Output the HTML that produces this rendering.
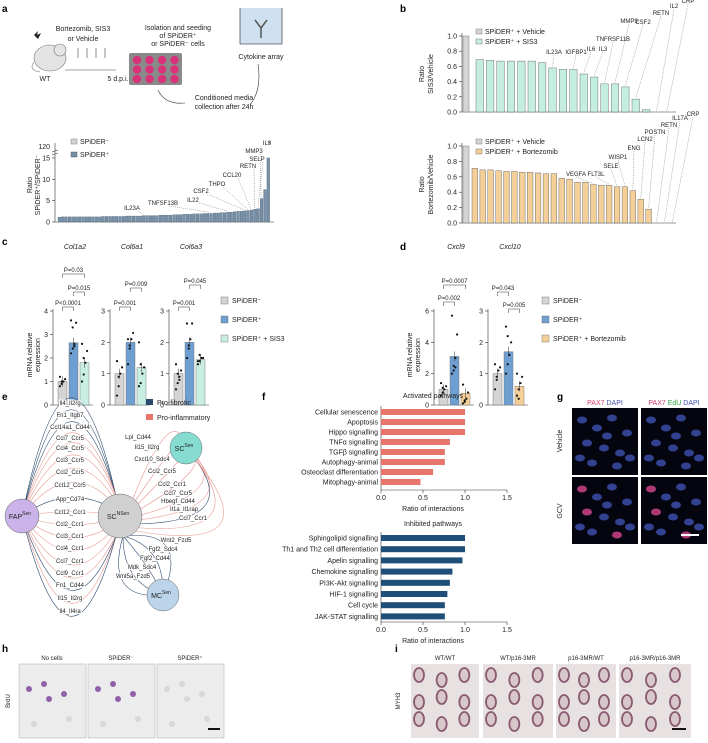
<!DOCTYPE html>
<html><head><meta charset="utf-8"><style>
body{margin:0;background:#fff;}
svg{display:block;font-family:"Liberation Sans",Arial,sans-serif;}
.pl{font-weight:bold;font-size:10px;}
.t{font-size:7px;fill:#222;}
.s{font-size:6px;fill:#222;}
</style></head><body>
<svg id="fig" width="708" height="743" viewBox="0 0 708 743" xmlns="http://www.w3.org/2000/svg">
<g>
<text class="pl" x="2" y="12">a</text>
<ellipse cx="50" cy="58" rx="16" ry="13" fill="#e4e4e4" stroke="#777" stroke-width="0.6"/>
<circle cx="60" cy="50" r="6" fill="#e4e4e4" stroke="#777" stroke-width="0.6"/>
<path d="M34,62 Q28,70 40,72" fill="none" stroke="#777" stroke-width="0.6"/>
<path d="M34,35 l4,-4 l-1,4 l4,-2 l-3,6" fill="#222"/>
<text class="t" x="45" y="81" text-anchor="middle">WT</text>
<text class="t" x="83" y="31" text-anchor="middle">Bortezomib, SIS3</text>
<text class="t" x="83" y="41" text-anchor="middle">or Vehicle</text>
<g stroke="#444" stroke-width="0.6"><line x1="78" y1="48" x2="78" y2="58"/><line x1="87" y1="48" x2="87" y2="58"/><line x1="96" y1="48" x2="96" y2="58"/><line x1="105" y1="48" x2="105" y2="58"/><line x1="65" y1="70" x2="116" y2="70"/></g>
<text class="t" x="118" y="81" text-anchor="middle">5 d.p.i.</text>
<rect x="129" y="53" width="53" height="32" rx="2" fill="#8a8a8a"/>
<g id="wells" fill="#d8337a"></g>
<text class="t" x="178" y="30" text-anchor="middle">Isolation and seeding</text>
<text class="t" x="178" y="38" text-anchor="middle">of SPiDER⁺</text>
<text class="t" x="178" y="46" text-anchor="middle">or SPiDER⁻ cells</text>
<path d="M240,8 L240,44 L282,44 L282,8" fill="#cfe0f0" stroke="#555" stroke-width="0.8"/>
<path d="M261,38 L261,28 L255,20 M261,28 L267,20" stroke="#555" stroke-width="1.5" fill="none"/>
<text class="t" x="261" y="59" text-anchor="middle">Cytokine array</text>
<path d="M158,90 Q165,105 185,103" fill="none" stroke="#333" stroke-width="0.6"/>
<path d="M250,105 Q262,90 258,64" fill="none" stroke="#333" stroke-width="0.6"/>
<text class="t" x="224" y="100" text-anchor="middle">Conditioned media</text>
<text class="t" x="224" y="109" text-anchor="middle">collection after 24h</text>
</g>
<g id="pa"></g>
<g id="pb"></g>
<g id="pc"></g>
<g id="pe"></g>
<g id="pf"></g>
<g id="pg"></g>
<g id="ph"></g>
</svg>
<script>
const NS="http://www.w3.org/2000/svg";
function el(p,tag,attrs,txt){const e=document.createElementNS(NS,tag);for(const k in attrs)e.setAttribute(k,attrs[k]);if(txt!==undefined)e.textContent=txt;p.appendChild(e);return e;}
function tx(p,x,y,s,cls,anchor,extra){const e=el(p,'text',Object.assign({x:x,y:y,class:cls||'t','text-anchor':anchor||'start'},extra||{}),s);return e;}

// ---- panel a data ----
const aRatios=[1.1,1.2,1.2,1.2,1.2,1.2,1.2,1.2,1.2,1.2,1.2,1.2,1.2,1.3,1.3,1.3,1.3,1.3,1.3,1.3,1.4,1.4,1.4,1.4,1.4,1.5,1.5,1.5,1.5,1.5,1.6,1.6,1.6,1.6,1.7,1.7,1.7,1.8,1.8,1.8,1.9,1.9,1.9,2.0,2.0,2.0,2.1,2.1,2.2,2.2,2.3,2.3,2.4,2.5,2.5,2.6,2.7,2.8,3.0,3.1,5.5,7.6,15];
const aLabels=["IL23A","TNFSF13B","IL22","CSF2","THPO","CCL20","RETN","SELP","MMP3","IL3"];
const aLabelIdx=[25,45,50,55,56,57,58,59,60,62];
const aTicks=[0,5,10,15];
// ---- panel b data ----
const bSisVals=[0.69,0.68,0.67,0.67,0.67,0.67,0.65,0.58,0.56,0.56,0.50,0.46,0.37,0.37,0.33,0.17,0.03,0,0];
const bSisLabels=["IL23A","IGFBP1","IL6","IL3","TNFRSF11B","MMP9","CSF2","RETN","IL2","CRP"];
const bSisIdx=[7,9,10,11,12,13,14,15,17,18];
const bBorVals=[0.71,0.69,0.69,0.68,0.67,0.67,0.66,0.66,0.65,0.64,0.64,0.58,0.57,0.53,0.53,0.50,0.49,0.49,0.47,0.47,0.42,0.31,0.18,0,0,0];
const bBorLabels=["VEGFA","FLT3L","SELE","WISP1","ENG","LCN2","POSTN","RETN","IL17A","CRP"];
const bBorIdx=[15,17,18,19,20,21,22,23,24,25];
const bTicks=[0,0.2,0.4,0.6,0.8,1.0];
// ---- panel c/d data ----
const cdGenes=["Col1a2","Col6a1","Col6a3","Cxcl9","Cxcl10"];
const cdMeans=[[1.0,2.65,1.8],[1.0,2.0,1.2],[1.0,2.0,1.45],[1.0,3.1,0.75],[1.0,1.7,0.6]];
const cdDots=[[[0.8,0.9,1.0,1.1,1.2,1.0],[2.2,2.4,2.6,3.5,3.6,3.3,2.5],[1.0,1.3,1.8,2.3,2.6,2.0]],
 [[0.3,0.6,1.0,1.2,1.4,0.9],[1.3,1.8,2.1,2.3,2.1,1.9],[0.6,0.7,1.0,1.2,2.0,1.3]],
 [[0.5,0.7,0.9,1.1,1.3,1.0,0.8],[1.5,1.8,2.1,2.6,2.6,1.9],[1.3,1.4,1.5,1.5,1.4,1.6]],
 [[0.6,0.8,1.0,1.2,1.4,1.1],[2.0,2.5,3.0,4.5,5.7,2.2,2.4],[0.1,0.2,0.4,0.8,1.3,0.3]],
 [[0.5,0.8,1.1,1.2,1.3,0.9],[1.0,1.3,1.6,2.0,2.5,2.2],[0.3,0.5,0.7,0.9,1.0,0.2]]];
const cdMax=[4,3,3,6,3];
const cdP=[[["P<0.0001",0,1,305],["P=0.015",1,2,290],["P=0.03",0,2,272]],
 [["P=0.001",0,1,305],["P=0.009",1,2,286]],
 [["P=0.001",0,1,305],["P=0.045",1,2,283]],
 [["P=0.002",0,1,300],["P=0.0007",0,2,283]],
 [["P=0.043",0,1,290],["P=0.005",1,2,307]]];
// ---- panel f data ----
const fActNames=["Cellular senescence","Apoptosis","Hippo signalling","TNFα signalling","TGFβ signalling","Autophagy-animal","Osteoclast differentiation","Mitophagy-animal"];
const fActVals=[1.0,1.0,1.0,0.82,0.76,0.76,0.62,0.47];
const fInhNames=["Sphingolipid signalling","Th1 and Th2 cell differentiation","Apelin signalling","Chemokine signalling","PI3K-Akt signalling","HIF-1 signalling","Cell cycle","JAK-STAT signalling"];
const fInhVals=[1.0,1.0,0.97,0.85,0.82,0.79,0.76,0.76];
const fTicks=[0,0.5,1.0,1.5];

// wells
const wells=document.getElementById('wells');
for(let r=0;r<3;r++)for(let c=0;c<4;c++){const w=el(wells,'circle',{cx:137+c*12.5,cy:60+r*9.5,r:4.2});

}

// ---- panel a chart ----
(function(){
const g=document.getElementById('pa');
const x0=58,dx=3.37,y0=222,k=4.27;
const ya=v=>y0-Math.min(v,15)*k;
el(g,'line',{x1:55,y1:143,x2:55,y2:222,stroke:'#333','stroke-width':0.6});
el(g,'line',{x1:55,y1:222,x2:274,y2:222,stroke:'#333','stroke-width':0.6});
aTicks.forEach(t=>{el(g,'line',{x1:52,x2:55,y1:ya(t),y2:ya(t),stroke:'#333','stroke-width':0.6});tx(g,50,ya(t)+2.5,String(t),'t','end');});
tx(g,50,149,"120",'t','end');
el(g,'line',{x1:52,x2:58,y1:152,y2:150,stroke:'#333','stroke-width':0.6});
el(g,'line',{x1:52,x2:58,y1:155,y2:153,stroke:'#333','stroke-width':0.6});
tx(g,32,185,"Ratio",'t','middle',{transform:'rotate(-90 32 185)'});
tx(g,40,185,"SPiDER⁺/SPiDER⁻",'t','middle',{transform:'rotate(-90 40 185)'});
aRatios.forEach((v,i)=>{const b=el(g,'rect',{x:x0+i*dx,y:ya(v),width:dx*0.8,height:y0-ya(v),fill:'#7590a8',stroke:'#44586a','stroke-width':0.3});

});
tx(g,269,146,"*",'t','middle');
const lp=[[132,210],[163,205],[193,202],[201,193],[217,186],[232,177],[248,168],[257,161],[254,153],[267,145]];
aLabels.forEach((s,i)=>{const [lx,ly]=lp[i];tx(g,lx,ly,s,'s','middle');const bi=aLabelIdx[i];
if(s!=="IL3")el(g,'line',{x1:lx+6,y1:ly+1,x2:x0+bi*dx+1,y2:ya(aRatios[bi])-1,stroke:'#555','stroke-width':0.4,'stroke-dasharray':'1,1'});});
el(g,'rect',{x:71,y:139,width:6,height:5,fill:'#d4d4d4',stroke:'#666','stroke-width':0.4});
tx(g,80,144,"SPiDER⁻");
el(g,'rect',{x:71,y:152,width:6,height:5,fill:'#7590a8',stroke:'#444','stroke-width':0.4});
tx(g,80,157,"SPiDER⁺");
})();

// ---- panel b ----
(function(){
const g=document.getElementById('pb');
tx(g,400,12,"b",'pl');
function chart(vals,labels,idx,top,bot,xStart,dx,color,legend2,ylab2,lpos){
 const ax=462,k=bot-top,y=v=>bot-v*k;
 el(g,'line',{x1:ax,y1:top-3,x2:ax,y2:bot,stroke:'#333','stroke-width':0.6});
 el(g,'line',{x1:ax,y1:bot,x2:676,y2:bot,stroke:'#333','stroke-width':0.6});
 bTicks.forEach(t=>{el(g,'line',{x1:ax-3,x2:ax,y1:y(t),y2:y(t),stroke:'#333','stroke-width':0.6});tx(g,ax-5,y(t)+2.5,t.toFixed(1),'t','end');});
 tx(g,424,(top+bot)/2,"Ratio",'t','middle',{transform:`rotate(-90 424 ${(top+bot)/2})`});
 tx(g,433,(top+bot)/2,ylab2,'t','middle',{transform:`rotate(-90 433 ${(top+bot)/2})`});
 el(g,'rect',{x:463,y:y(1),width:6,height:bot-y(1),fill:'#d4d4d4',stroke:'#666','stroke-width':0.4});
 vals.forEach((v,i)=>{const b=el(g,'rect',{x:xStart+i*dx,y:y(v),width:dx*0.72,height:bot-y(v),fill:color,stroke:'#555','stroke-width':0.4});
 
 });
 labels.forEach((s,i)=>{const [lx,ly]=lpos[i];tx(g,lx,ly,s,'s','middle');const bi=idx[i];
  el(g,'line',{x1:lx,y1:ly+1,x2:xStart+bi*dx+dx*0.36,y2:y(vals[bi])-1,stroke:'#555','stroke-width':0.4,'stroke-dasharray':'1,1'});});
 el(g,'rect',{x:476,y:top-7,width:6,height:5,fill:'#d4d4d4',stroke:'#666','stroke-width':0.4});
 tx(g,485,top-2,"SPiDER⁺ + Vehicle");
 el(g,'rect',{x:476,y:top+3,width:6,height:5,fill:color,stroke:'#555','stroke-width':0.4});
 tx(g,485,top+8,legend2);
}
chart(bSisVals,bSisLabels,bSisIdx,36,112,476,10.4,'#c4efe0','SPiDER⁺ + SIS3','SIS3/Vehicle',
 [[554,54],[576,54],[591,51],[603,51],[613,41],[629,23],[643,24],[661,15],[674,8],[688,3]]);
chart(bBorVals,bBorLabels,bBorIdx,146,223,472,7.9,'#f5cf98','SPiDER⁺ + Bortezomib','Bortezomib/Vehicle',
 [[576,176],[596,176],[611,168],[618,159],[634,150],[645,141],[655,134],[669,127],[680,120],[693,116]]);
})();

// ---- panel c/d ----
(function(){
const g=document.getElementById('pc');
tx(g,2,245,"c",'pl');tx(g,400,250,"d",'pl');
const axes=[53,110,169,434,488];
const cols=['#d4d4d4','#6f9fd0','#c9efe2','#d4d4d4','#6f9fd0','#f5cf98'];
const y0=405,h=94;
cdGenes.forEach((gn,ci)=>{
 const ax=axes[ci],mx=cdMax[ci],y=v=>y0-v/mx*h;
 const fill=ci<3?['#d4d4d4','#6f9fd0','#c9efe2']:['#d4d4d4','#6f9fd0','#f5cf98'];
 tx(g,ax+22,249,gn,'t','middle',{'font-style':'italic','font-size':'7.5'});
 el(g,'line',{x1:ax,y1:y(mx)-2,x2:ax,y2:y0,stroke:'#333','stroke-width':0.6});
 el(g,'line',{x1:ax,y1:y0,x2:ax+40,y2:y0,stroke:'#333','stroke-width':0.6});
 const step=ci===3?2:1;
 for(let t=0;t<=mx;t+=step){el(g,'line',{x1:ax-3,x2:ax,y1:y(t),y2:y(t),stroke:'#333','stroke-width':0.6});tx(g,ax-5,y(t)+2.5,String(t),'t','end');}
 const bx=i=>ax+5+i*11;
 cdMeans[ci].forEach((m,i)=>{const b=el(g,'rect',{x:bx(i),y:y(m),width:9,height:y0-y(m),fill:fill[i],stroke:'#666','stroke-width':0.4});
  
  
  el(g,'line',{x1:bx(i)+4.5,x2:bx(i)+4.5,y1:y(m)-5,y2:y(m)+5,stroke:'#333','stroke-width':0.5});
  cdDots[ci][i].forEach((d,j)=>{const c=el(g,'circle',{cx:bx(i)+2+(j%4)*1.7,cy:y(d),r:1.1,fill:'#111'});
   
   });});
 cdP[ci].forEach(([s,a,b,py])=>{const x1=bx(a)+4.5,x2=bx(b)+4.5;
  el(g,'path',{d:`M${x1},${py+6} L${x1},${py+2} L${x2},${py+2} L${x2},${py+6}`,fill:'none',stroke:'#333','stroke-width':0.5});
  tx(g,(x1+x2)/2,py,s,'s','middle');});
});
tx(g,32,355,"mRNA relative",'t','middle',{transform:'rotate(-90 32 355)'});
tx(g,40,355,"expression",'t','middle',{transform:'rotate(-90 40 355)'});
tx(g,412,355,"mRNA relative",'t','middle',{transform:'rotate(-90 412 355)'});
tx(g,420,355,"expression",'t','middle',{transform:'rotate(-90 420 355)'});
const lg=[[221,["SPiDER⁻","SPiDER⁺","SPiDER⁺ + SIS3"],['#d4d4d4','#6f9fd0','#c9efe2']],[542,["SPiDER⁻","SPiDER⁺","SPiDER⁺ + Bortezomib"],['#d4d4d4','#6f9fd0','#f5cf98']]];
lg.forEach(([x,names,cs])=>names.forEach((n,i)=>{el(g,'rect',{x:x,y:297+i*19,width:7,height:7,fill:cs[i],stroke:'#666','stroke-width':0.4});tx(g,x+11,303+i*19,n,'t');}));
})();

// ---- panel e ----
(function(){
const g=document.getElementById('pe');
tx(g,2,400,"e",'pl');
const fap=[22,516],sc=[120,516],scs=[186,448],mc=[163,595];
const left=[["Il4_Il2rg",403,'b'],["Fn1_Itgb7",415,'b'],["Ccl14a1_Cd44",427,'b'],["Ccl7_Ccr5",438,'r'],["Ccl4_Ccr5",448,'r'],["Ccl3_Ccr5",460,'r'],["Ccl2_Ccr5",472,'r'],["Ccl12_Ccr5",485,'r'],["App_Cd74",499,'b'],["Ccl12_Ccr1",512,'r'],["Ccl2_Ccr1",524,'r'],["Ccl3_Ccr1",536,'r'],["Ccl4_Ccr1",548,'r'],["Ccl7_Ccr1",561,'r'],["Ccl9_Ccr1",573,'r'],["Fn1_Cd44",585,'b'],["Il15_Il2rg",598,'r'],["Il4_Il4ra",611,'b']];
const col={b:'#2c4a6e',r:'#e89a94'};
left.forEach(([s,y,c])=>{const cx=2*70-(fap[0]+sc[0])/2,cy=2*y-(fap[1]+sc[1])/2;
 el(g,'path',{d:`M${fap[0]},${fap[1]} Q${cx},${cy} ${sc[0]-4},${sc[1]+(y<516?-20:20)*Math.min(1,Math.abs(y-516)/60)}`,fill:'none',stroke:col[c],'stroke-width':0.6});});
left.forEach(([s,y])=>{tx(g,70,y+2,s,'s','middle',{stroke:'#fff','stroke-width':2,'paint-order':'stroke'});});
const right=[["Lpl_Cd44",138,439,'r'],["Il15_Il2rg",147,449,'r'],["Cxcl10_Sdc4",152,461,'r'],["Ccl2_Ccr5",162,473,'r'],["Ccl2_Ccr1",172,486,'r'],["Ccl7_Ccr5",178,495,'r'],["Hbegf_Cd44",178,503,'b'],["Il1a_Il1rap",184,511,'r'],["Ccl7_Ccr1",193,520,'r']];
right.forEach(([s,x,y,c],i)=>{const cx=2*(x+25)-(scs[0]+sc[0])/2,cy=2*y-(scs[1]+sc[1])/2;
 el(g,'path',{d:`M${scs[0]},${scs[1]} Q${cx},${cy} ${sc[0]+10},${sc[1]-10+i*3}`,fill:'none',stroke:col[c],'stroke-width':0.6});});
right.forEach(([s,x,y])=>tx(g,x,y,s,'s','middle',{stroke:'#fff','stroke-width':2,'paint-order':'stroke'}));
const mcl=[["Wnt2_Fzd5",176,542],["Fgf2_Sdc4",163,551],["Fgf2_Cd44",155,560],["Mdk_Sdc4",142,569],["Wnt5a_Fzd5",133,578]];
mcl.forEach(([s,x,y])=>{const cx=2*(x-10)-(mc[0]+sc[0])/2,cy=2*y-(mc[1]+sc[1])/2;
 el(g,'path',{d:`M${mc[0]},${mc[1]} Q${cx},${cy} ${sc[0]+3},${sc[1]+20}`,fill:'none',stroke:'#2c4a6e','stroke-width':0.6});});
mcl.forEach(([s,x,y])=>tx(g,x,y,s,'s','middle',{stroke:'#fff','stroke-width':2,'paint-order':'stroke'}));
[[fap,17,'#c9b3e8','FAP','Sen'],[sc,22,'#d0d0d0','SC','NSen'],[scs,16,'#86dcd0','SC','Sen'],[mc,16,'#bcd4ea','MC','Sen']].forEach(([p,r,f,a,b])=>{
 const c=el(g,'circle',{cx:p[0],cy:p[1],r:r,fill:f,stroke:'#666','stroke-width':0.5});
 
 
 const t=tx(g,p[0]-2,p[1]+3,a,'t','middle',{'font-size':'9'});el(t,'tspan',{'font-size':'5',dy:'-4'},b);});
el(g,'rect',{x:146,y:399,width:7,height:6,fill:'#2c4a6e'});tx(g,157,405,"Pro-fibrotic");
el(g,'rect',{x:146,y:414,width:7,height:6,fill:'#e8756c'});tx(g,157,420,"Pro-inflammatory");
})();

// ---- panel f ----
(function(){
const g=document.getElementById('pf');
tx(g,262,400,"f",'pl');
const x0=381,k=84;
function ch(names,vals,y1,dy,col,title,ty,ay){
 tx(g,x0+52,ty,title,'t','middle');
 el(g,'line',{x1:x0,y1:y1-6,x2:x0,y2:ay,stroke:'#333','stroke-width':0.6});
 el(g,'line',{x1:x0,y1:ay,x2:x0+k*1.5,y2:ay,stroke:'#333','stroke-width':0.6});
 fTicks.forEach(t=>{el(g,'line',{x1:x0+t*k,x2:x0+t*k,y1:ay,y2:ay+3,stroke:'#333','stroke-width':0.6});tx(g,x0+t*k,ay+10,t.toFixed(1),'t','middle');});
 tx(g,x0+52,ay+21,"Ratio of interactions",'t','middle');
 names.forEach((n,i)=>{const y=y1+i*dy;tx(g,x0-3,y+2.5,n,'t','end');
  const b=el(g,'rect',{x:x0,y:y-3,width:vals[i]*k,height:6,fill:col});
  
  });
}
ch(fActNames,fActVals,412,10,'#e8756c',"Activated pathways",398,490);
ch(fInhNames,fInhVals,538,11.2,'#1f4e79',"Inhibited pathways",526,622);
})();

// ---- panel g ----
(function(){
const g=document.getElementById('pg');
tx(g,557,400,"g",'pl');
const t1=tx(g,605,405,"",'t','middle');el(t1,'tspan',{fill:'#d0406a'},"PAX7 ");el(t1,'tspan',{fill:'#4050b0'},"DAPI");
const t2=tx(g,674,405,"",'t','middle');el(t2,'tspan',{fill:'#d0406a'},"PAX7 ");el(t2,'tspan',{fill:'#30a040'},"EdU ");el(t2,'tspan',{fill:'#4050b0'},"DAPI");
tx(g,562,441,"Vehicle",'t','middle',{transform:'rotate(-90 562 441)'});
tx(g,562,511,"GCV",'t','middle',{transform:'rotate(-90 562 511)'});
const blobs=[[10,12],[25,20],[40,10],[55,25],[15,35],[32,40],[48,45],[20,55],[45,58],[58,50],[8,50],[35,28]];
[[572,408],[641,408],[572,477],[641,477]].forEach(([x,y],k)=>{
 const r=el(g,'rect',{x:x,y:y,width:66,height:67,fill:'#05050f'});
 
 
 blobs.forEach(([bx,by],i)=>el(g,'ellipse',{cx:x+bx,cy:y+by,rx:5,ry:3.5,fill:i%4===0&&k>=2?'#c04080':'#3848a0',opacity:0.9}));
});
el(g,'rect',{x:681,y:534,width:18,height:2,fill:'#fff'});
})();

// ---- panel h & i ----
(function(){
const g=document.getElementById('ph');
tx(g,2,652,"h",'pl');tx(g,395,652,"i",'pl');
tx(g,10,701,"BrdU",'s','middle',{transform:'rotate(-90 10 701)'});
tx(g,400,701,"MYH3",'s','middle',{transform:'rotate(-90 400 701)'});
const hs=[["No cells",19],["SPiDER⁻",88],["SPiDER⁺",157]];
hs.forEach(([s,x],k)=>{tx(g,x+33,660,s,'s','middle');
 const r=el(g,'rect',{x:x,y:664,width:67,height:74,fill:'#ececec',stroke:'#aaa','stroke-width':0.5});
 
 
 [[10,25],[25,20],[30,35],[45,30],[50,55],[15,60]].forEach(([a,b],i)=>el(g,'circle',{cx:x+a,cy:664+b,r:3,fill:(k<2&&i<4)?'#9060a8':'#d8d8d8'}));});
el(g,'rect',{x:208,y:728,width:12,height:2,fill:'#111'});
const is=[["WT/WT",411,68],["WT/p16-3MR",483,70],["p16-3MR/WT",556,60],["p16-3MR/p16-3MR",619,72]];
is.forEach(([s,x,w])=>{tx(g,x+w/2,660,s,'s','middle');
 const r=el(g,'rect',{x:x,y:664,width:w,height:74,fill:'#e7e1e1'});
 
 
 for(let i=0;i<9;i++){const cx=x+8+(i%3)*(w/3),cy=675+Math.floor(i/3)*22+(i%2)*5;
  el(g,'ellipse',{cx:cx,cy:cy,rx:5,ry:7,fill:'#d8c8cc',stroke:'#8a5a70','stroke-width':1.8});}});
el(g,'rect',{x:672,y:728,width:14,height:2,fill:'#111'});
})();
</script>
</body></html>
